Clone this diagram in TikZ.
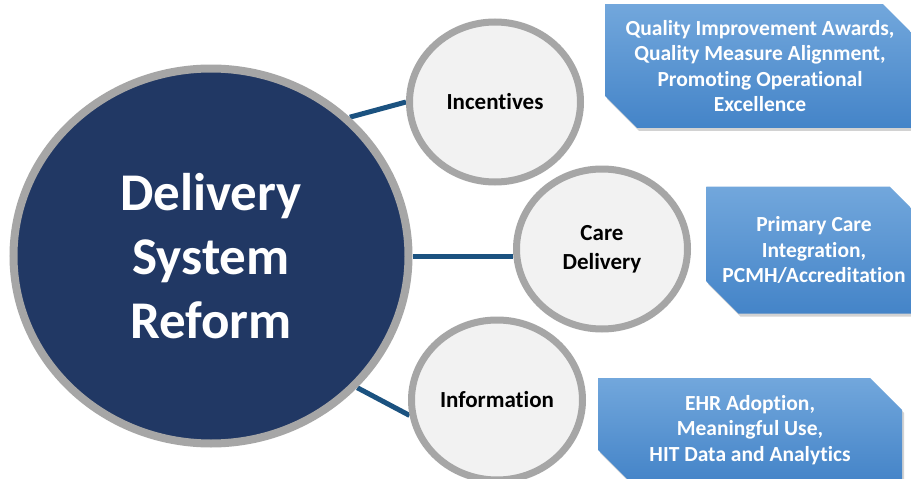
\documentclass[tikz,border=0pt]{standalone}
\usepackage{fontspec}
\setmainfont{Carlito}[Ligatures=NoCommon]
\usetikzlibrary{shapes.geometric,shapes.misc,shadows,backgrounds}
\definecolor{navy}{RGB}{33,56,100}
\definecolor{ringgray}{RGB}{166,166,166}
\definecolor{hubfill}{RGB}{242,242,242}
\definecolor{linkblue}{RGB}{27,82,128}
\definecolor{boxtop}{RGB}{114,167,220}
\definecolor{boxbot}{RGB}{68,132,200}
\begin{document}
\begin{tikzpicture}[x=1pt,y=-1pt,
    core/.style={ellipse,draw=ringgray,line width=8pt,fill=navy,minimum width=395pt,minimum height=375pt,text=white,inner sep=0pt,align=center,font=\bfseries\fontsize{53}{64}\selectfont},
    hub/.style={ellipse,draw=ringgray,line width=7pt,fill=hubfill,minimum width=171pt,minimum height=160pt,inner sep=0pt,align=center,font=\bfseries\fontsize{23}{29}\selectfont},
    note/.style={chamfered rectangle,chamfered rectangle corners={north east,south west},chamfered rectangle sep=16pt,top color=boxtop,bottom color=boxbot,text=white,inner sep=0pt,align=center,font=\bfseries\fontsize{21.5}{25.5}\selectfont,drop shadow={opacity=0.35,shadow xshift=2pt,shadow yshift=-3pt}},
    link/.style={draw=linkblue,line width=5pt}]
    \clip (0,0) rectangle (911,479);
    % centre and the three hubs
    \node[core] (dsr) at (211,256) {Delivery\\System\\Reform};
    \node[hub] (inc) at (495,102) {Incentives};
    \node[hub] (care) at (602,249) {Care\\Delivery};
    \node[hub] (info) at (497,400) {Information};
    % detail boxes
    \node[note,minimum width=310pt,minimum height=112pt] (incbox) at (760,66) {Quality Improvement Awards,\\Quality Measure Alignment,\\Promoting Operational\\Excellence};
    \node[note,minimum width=208pt,minimum height=127pt] (carebox) at (814,250) {Primary Care\\Integration,\\PCMH/Accreditation};
    \node[note,minimum width=304pt,minimum height=104pt] (infobox) at (750,430) {EHR Adoption,\\Meaningful Use,\\HIT Data and Analytics};
    % connectors under the circles
    \begin{pgfonlayer}{background}
        \fill[white] (0,0) rectangle (911,479);
        \draw[link] (dsr.45) -- (inc.west);
        \draw[link] (dsr.east) -- (dsr.east -| care.west);
        \draw[link] (dsr.-42) -- (info.190);
    \end{pgfonlayer}
\end{tikzpicture}
\end{document}
